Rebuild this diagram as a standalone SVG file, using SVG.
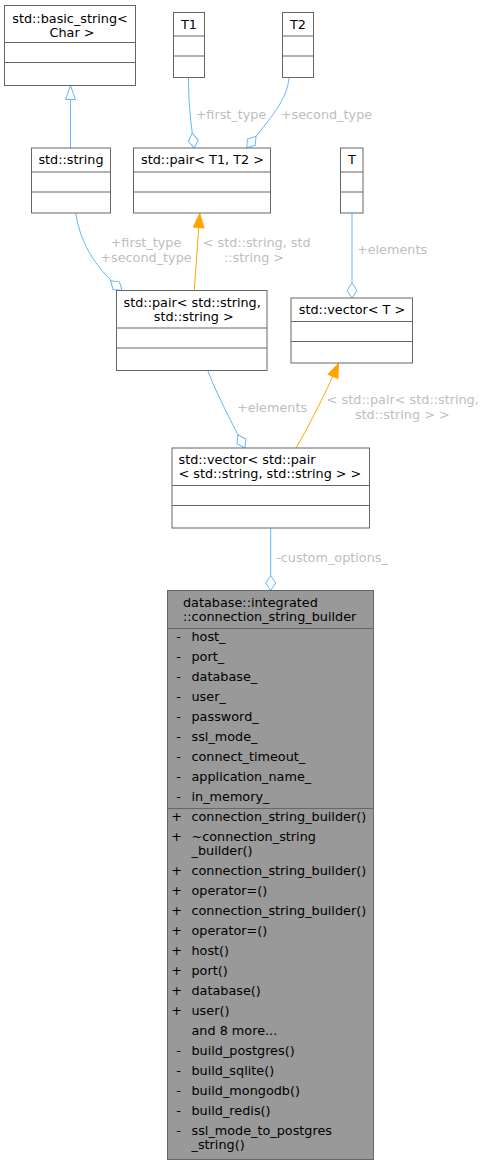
<svg xmlns="http://www.w3.org/2000/svg" width="485" height="1165" viewBox="0 0 485 1165">
<style>
text{font-family:"DejaVu Sans",Verdana,sans-serif;font-size:12.8px;fill:#000}
.c{text-anchor:middle}
.lbl{fill:#bebebe}
.box{fill:#fff;stroke:#666;stroke-width:1}
.main{fill:#999;stroke:#666;stroke-width:1}
.div{stroke:#666;stroke-width:1;fill:none}
.e{fill:none;stroke:#63b8ff;stroke-width:1}
.o{fill:none;stroke:#ffa500;stroke-width:1}
</style>
<defs>
<marker id="dia" markerUnits="userSpaceOnUse" viewBox="-1 -7 18 14" markerWidth="18" markerHeight="14" refX="15" refY="0" orient="auto" overflow="visible">
<path d="M0,0 L7.5,-5 L15,0 L7.5,5 Z" fill="#fff" stroke="#63b8ff" stroke-width="1"/>
</marker>
<marker id="tri" markerUnits="userSpaceOnUse" viewBox="-1 -7 16 14" markerWidth="16" markerHeight="14" refX="14" refY="0" orient="auto" overflow="visible">
<path d="M0,-5 L14,0 L0,5 Z" fill="#fff" stroke="#63b8ff" stroke-width="1"/>
</marker>
<marker id="otri" markerUnits="userSpaceOnUse" viewBox="-1 -7 16 14" markerWidth="16" markerHeight="14" refX="14" refY="0" orient="auto" overflow="visible">
<path d="M0,-5.3 L14,0 L0,5.3 Z" fill="#ffa500" stroke="#ffa500" stroke-width="1"/>
</marker>
</defs>

<g id="connectors">
<path class="e" d="M70.5,148 L70.5,85.5" marker-end="url(#tri)"/>
<path class="e" d="M188.5,78 C188.5,100 190,118 194.3,148" marker-end="url(#dia)"/>
<text class="lbl c" x="231" y="119">+first_type</text>
<path class="e" d="M289,78 C287,100 272,116 246.7,148" marker-end="url(#dia)"/>
<text class="lbl c" x="326.5" y="119">+second_type</text>
<path class="e" d="M75.7,213 C80,240 92,265 122,290.5" marker-end="url(#dia)"/>
<text class="lbl c" x="146" y="247">+first_type</text>
<text class="lbl c" x="146" y="262">+second_type</text>
<path class="o" d="M194.3,290.5 L199.7,213.5" marker-end="url(#otri)"/>
<text class="lbl c" x="256.7" y="247">&lt; std::string, std</text>
<text class="lbl c" x="254" y="262">::string &gt;</text>
<path class="e" d="M352,213.5 L352,298" marker-end="url(#dia)"/>
<text class="lbl c" x="392" y="254">+elements</text>
<path class="e" d="M207.7,370.5 C215,390 230,420 245,448" marker-end="url(#dia)"/>
<text class="lbl c" x="272" y="412">+elements</text>
<path class="o" d="M296,448 C305,433 325,395 338.5,363.5" marker-end="url(#otri)"/>
<text class="lbl c" x="402.8" y="404">&lt; std::pair&lt; std::string,</text>
<text class="lbl c" x="402.3" y="418.5">std::string &gt; &gt;</text>
<path class="e" d="M270.7,528 L270.7,590.5" marker-end="url(#dia)"/>
<text class="lbl c" x="332" y="562">-custom_options_</text>
</g>

<g id="node-basic-string">
<rect class="box" x="4.5" y="5.5" width="131" height="80"/>
<path class="div" d="M4.5,42.5 H135.5 M4.5,62.5 H135.5"/>
<text class="c" x="70" y="23">std::basic_string&lt;</text>
<text class="c" x="72" y="37">Char &gt;</text>
</g>

<g id="node-T1">
<rect class="box" x="173.5" y="12.5" width="31" height="65"/>
<path class="div" d="M173.5,36 H204.5 M173.5,56 H204.5"/>
<text class="c" x="189" y="29">T1</text>
</g>

<g id="node-T2">
<rect class="box" x="282.5" y="12.5" width="31" height="65"/>
<path class="div" d="M282.5,36 H313.5 M282.5,56 H313.5"/>
<text class="c" x="298" y="29">T2</text>
</g>

<g id="node-string">
<rect class="box" x="31.5" y="148" width="79" height="65"/>
<path class="div" d="M31.5,172 H110.5 M31.5,192 H110.5"/>
<text class="c" x="71" y="164">std::string</text>
</g>

<g id="node-pair-T1-T2">
<rect class="box" x="133.5" y="148" width="137" height="65"/>
<path class="div" d="M133.5,172 H270.5 M133.5,192 H270.5"/>
<text class="c" x="202.5" y="164">std::pair&lt; T1, T2 &gt;</text>
</g>

<g id="node-T">
<rect class="box" x="340.5" y="148" width="22.5" height="65"/>
<path class="div" d="M340.5,172 H363 M340.5,192 H363"/>
<text class="c" x="352" y="164">T</text>
</g>

<g id="node-pair-string">
<rect class="box" x="116.5" y="290.5" width="150.5" height="80"/>
<path class="div" d="M116.5,328 H267 M116.5,348 H267"/>
<text class="c" x="192.2" y="306.5">std::pair&lt; std::string,</text>
<text class="c" x="193.8" y="320.5">std::string &gt;</text>
</g>

<g id="node-vector-T">
<rect class="box" x="291" y="298" width="121.5" height="65"/>
<path class="div" d="M291,321.5 H412.5 M291,341.5 H412.5"/>
<text class="c" x="352" y="314">std::vector&lt; T &gt;</text>
</g>

<g id="node-vector-pair">
<rect class="box" x="172" y="448" width="197.5" height="80"/>
<path class="div" d="M172,485.5 H369.5 M172,505.5 H369.5"/>
<text x="178.5" y="464">std::vector&lt; std::pair</text>
<text x="178.5" y="477.5">&lt; std::string, std::string &gt; &gt;</text>
</g>

<g id="node-connection-string-builder">
<rect class="main" x="167.5" y="590.5" width="206" height="569"/>
<path class="div" d="M167.5,628.5 H373.5 M167.5,808.5 H373.5"/>
<text x="183" y="607">database::integrated</text>
<text x="183" y="621">::connection_string_builder</text>
<g class="c">
<text x="178.5" y="641">-</text>
<text x="178.5" y="661">-</text>
<text x="178.5" y="681">-</text>
<text x="178.5" y="701">-</text>
<text x="178.5" y="721">-</text>
<text x="178.5" y="741">-</text>
<text x="178.5" y="761">-</text>
<text x="178.5" y="781">-</text>
<text x="178.5" y="801">-</text>
<text x="176.5" y="821">+</text>
<text x="176.5" y="841">+</text>
<text x="176.5" y="875">+</text>
<text x="176.5" y="895">+</text>
<text x="176.5" y="915">+</text>
<text x="176.5" y="935">+</text>
<text x="176.5" y="955">+</text>
<text x="176.5" y="975">+</text>
<text x="176.5" y="995">+</text>
<text x="176.5" y="1015">+</text>
<text x="178.5" y="1055">-</text>
<text x="178.5" y="1075">-</text>
<text x="178.5" y="1095">-</text>
<text x="178.5" y="1115">-</text>
<text x="178.5" y="1135">-</text>
</g>
<text x="191.5" y="641">host_</text>
<text x="191.5" y="661">port_</text>
<text x="191.5" y="681">database_</text>
<text x="191.5" y="701">user_</text>
<text x="191.5" y="721">password_</text>
<text x="191.5" y="741">ssl_mode_</text>
<text x="191.5" y="761">connect_timeout_</text>
<text x="191.5" y="781">application_name_</text>
<text x="191.5" y="801">in_memory_</text>
<text x="191.5" y="821">connection_string_builder()</text>
<text x="191.5" y="841">~connection_string</text>
<text x="191.5" y="855">_builder()</text>
<text x="191.5" y="875">connection_string_builder()</text>
<text x="191.5" y="895">operator=()</text>
<text x="191.5" y="915">connection_string_builder()</text>
<text x="191.5" y="935">operator=()</text>
<text x="191.5" y="955">host()</text>
<text x="191.5" y="975">port()</text>
<text x="191.5" y="995">database()</text>
<text x="191.5" y="1015">user()</text>
<text x="191.5" y="1035">and 8 more...</text>
<text x="191.5" y="1055">build_postgres()</text>
<text x="191.5" y="1075">build_sqlite()</text>
<text x="191.5" y="1095">build_mongodb()</text>
<text x="191.5" y="1115">build_redis()</text>
<text x="191.5" y="1135">ssl_mode_to_postgres</text>
<text x="191.5" y="1149">_string()</text>
</g>
</svg>
